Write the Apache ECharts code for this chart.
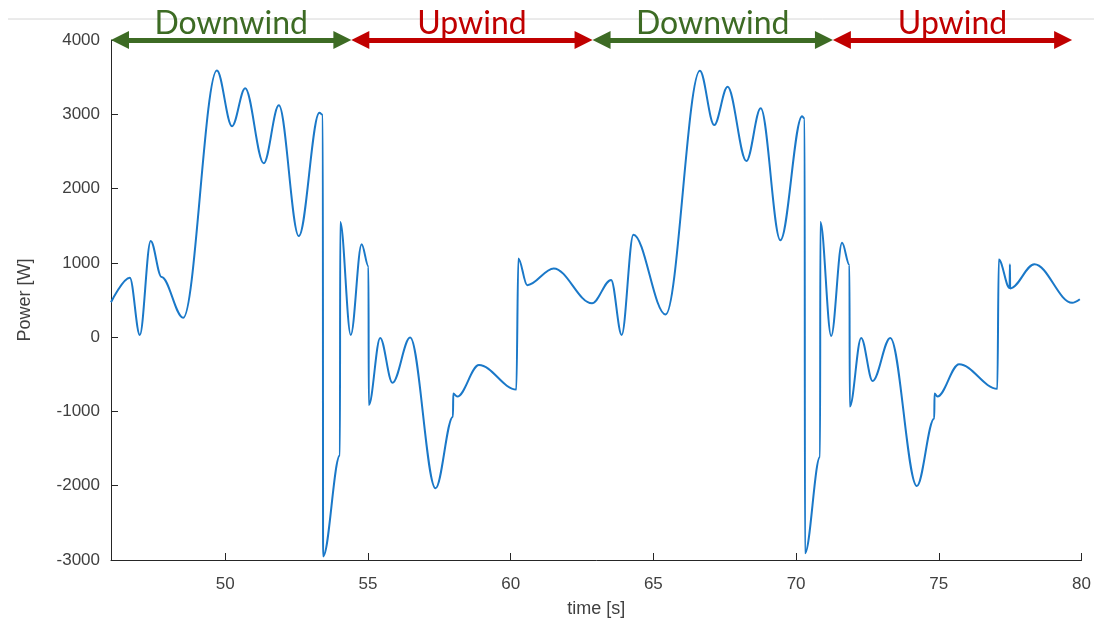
<!DOCTYPE html>
<html>
<head>
<meta charset="utf-8">
<title>Power vs time</title>
<script src="https://cdn.jsdelivr.net/npm/echarts@6/dist/echarts.min.js"></script>
<style>
  html, body { margin: 0; padding: 0; background: #fff; }
  #chart { width: 1094px; height: 626px; }
</style>
</head>
<body>
<div id="chart"></div>
<script>
// time [s] and power [W] (peaks, valleys and jumps)
const time = [
  46.00, 46.66, 47.01, 47.39, 47.77, 48.53, 49.71, 50.24, 50.70, 51.35, 51.88, 52.58, 53.30, 53.42,
  53.43, 54.02, 54.03, 54.40, 54.78, 55.02, 55.03, 55.43, 55.86, 56.48, 57.37, 57.98, 57.99, 58.13,
  58.89, 60.20, 60.27, 60.58, 61.51, 62.85, 63.52, 63.89, 64.30, 65.43, 66.63, 67.13, 67.60, 68.26,
  68.76, 69.45, 70.21, 70.30, 70.31, 70.84, 70.85, 71.23, 71.61, 71.87, 71.88, 72.28, 72.68, 73.30,
  74.23, 74.84, 74.85, 74.95, 75.71, 77.05, 77.10, 77.48, 77.49, 77.50, 78.35, 79.67, 79.94
];
const power = [
  470, 800, 30, 1295, 810, 260, 3590, 2840, 3350, 2340, 3120, 1360, 3020, 2990,
  -2950, -1590, 1550, 30, 1250, 950, -915, -10, -615, -5, -2035, -1070, -760, -800,
  -375, -705, 1060, 700, 925, 455, 770, 30, 1380, 305, 3585, 2855, 3370, 2370,
  3080, 1305, 2975, 2940, -2910, -1610, 1550, 15, 1270, 970, -935, -10, -590, -10,
  -2005, -1095, -760, -800, -365, -695, 1045, 660, 980, 655, 982, 462, 510
];

// phase boundaries [s] for the arrows above the plot
const phaseBounds = [46.0, 54.42, 62.87, 71.29, 79.67];
const phaseNames = ['Downwind', 'Upwind', 'Downwind', 'Upwind'];
const phaseColors = ['#3d6b24', '#c00000', '#3d6b24', '#c00000'];

const xTicks = [50, 55, 60, 65, 70, 75, 80];

const chart = echarts.init(document.getElementById('chart'));

// half an arrow head, in seconds, so the tips sit on the boundaries
const tipPad = 9 / 28.6;
const arrows = phaseNames.map((name, i) => [
  {
    coord: [phaseBounds[i] + tipPad, 4000],
    lineStyle: { color: phaseColors[i], width: 5, type: 'solid' },
    label: { show: true, formatter: name, color: phaseColors[i] }
  },
  { coord: [phaseBounds[i + 1] - tipPad, 4000] }
]);

const axisFont = { fontFamily: 'Liberation Sans', fontSize: 17, color: '#404040' };

const option = {
  animation: false,
  grid: { left: 111, right: 11, top: 40, bottom: 66 },
  graphic: [{
    type: 'line',
    shape: { x1: 8, y1: 19, x2: 1094, y2: 19 },
    style: { stroke: '#d6d6d6', lineWidth: 1 },
    silent: true
  }],
  xAxis: {
    type: 'value',
    min: 46,
    max: 80,
    name: 'time [s]',
    nameLocation: 'middle',
    nameGap: 40,
    nameTextStyle: { fontFamily: 'Liberation Sans', fontSize: 18, color: '#404040' },
    axisLine: { show: true, onZero: false, lineStyle: { color: '#262626', width: 1 } },
    axisTick: { show: true, inside: true, length: 7, customValues: xTicks, lineStyle: { color: '#262626' } },
    axisLabel: Object.assign({ margin: 16, customValues: xTicks, formatter: v => String(v) }, axisFont),
    splitLine: { show: false }
  },
  yAxis: {
    type: 'value',
    min: -3000,
    max: 4000,
    interval: 1000,
    name: 'Power [W]',
    nameLocation: 'middle',
    nameRotate: 90,
    nameGap: 77,
    nameTextStyle: { fontFamily: 'Liberation Sans', fontSize: 18, color: '#404040' },
    axisLine: { show: true, onZero: false, lineStyle: { color: '#262626', width: 1 } },
    axisTick: { show: true, inside: true, length: 7, lineStyle: { color: '#262626' } },
    axisLabel: Object.assign({ margin: 11, formatter: v => String(v) }, axisFont),
    splitLine: { show: false }
  },
  series: [{
    type: 'line',
    data: time.map((t, i) => [t, power[i]]),
    showSymbol: false,
    smooth: 0.35,
    smoothMonotone: 'x',
    clip: false,
    lineStyle: { color: '#1a78c8', width: 2 },
    markLine: {
      silent: true,
      symbol: ['triangle', 'triangle'],
      symbolSize: 18,
      label: {
        position: 'middle',
        distance: 0,
        fontFamily: 'Lato',
        fontSize: 32
      },
      data: arrows
    }
  }]
};

chart.setOption(option);
</script>
</body>
</html>
